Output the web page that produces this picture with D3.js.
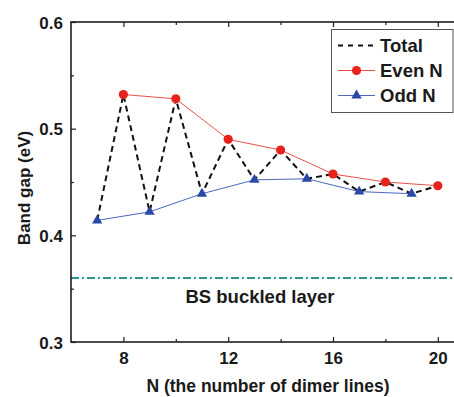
<!DOCTYPE html>
<html>
<head>
<meta charset="utf-8">
<script src="https://cdn.jsdelivr.net/npm/d3@7"></script>
<style>
  body { margin: 0; background: #fff; }
  svg { display: block; overflow: hidden; font-family: "Liberation Sans", Arial, sans-serif; font-weight: bold; }
</style>
</head>
<body>
<script>
// values
const evenN = [8, 10, 12, 14, 16, 18, 20];
const evenGap = [0.532, 0.528, 0.490, 0.480, 0.4575, 0.450, 0.4465];
const oddN = [7, 9, 11, 13, 15, 17, 19];
const oddGap = [0.414, 0.422, 0.439, 0.452, 0.453, 0.441, 0.439];
const bsGap = 0.360;
const yMajor = [0.3, 0.4, 0.5, 0.6];
const yMinor = [0.35, 0.45, 0.55];
const xMajor = [8, 12, 16, 20];
const xMinor = [10, 14, 18];

const W = 454, H = 397;
const margin = { top: 22, left: 71 };
const plotRight = 464, plotBottom = 342;

const x = d3.scaleLinear().domain([6, 21]).range([margin.left, plotRight]);
const y = d3.scaleLinear().domain([0.3, 0.6]).range([plotBottom, margin.top]);

const even = evenN.map((n, i) => ({ n: n, v: evenGap[i] }));
const odd = oddN.map((n, i) => ({ n: n, v: oddGap[i] }));
const total = even.concat(odd).sort((a, b) => a.n - b.n);

const svg = d3.select("body").append("svg")
  .attr("width", W)
  .attr("height", H);

const line = d3.line().x(d => x(d.n)).y(d => y(d.v));

const red = "#e8221c", blue = "#2a49a6", frame = "#1e1e1e";

// BS buckled reference line
svg.append("line")
  .attr("x1", x(6)).attr("x2", x(21))
  .attr("y1", y(bsGap)).attr("y2", y(bsGap))
  .attr("stroke", "#27968c")
  .attr("stroke-width", 1.8)
  .attr("stroke-dasharray", "8,3,2,3");

svg.append("text")
  .attr("x", 260).attr("y", 303)
  .attr("text-anchor", "middle")
  .style("font-size", "18.5px")
  .attr("fill", "#1a1a1a")
  .text("BS buckled layer");

// series
svg.append("path").datum(even)
  .attr("d", line).attr("fill", "none")
  .attr("stroke", "#e8504a").attr("stroke-width", 1);
svg.append("path").datum(odd)
  .attr("d", line).attr("fill", "none")
  .attr("stroke", "#4a68c0").attr("stroke-width", 1);
svg.append("path").datum(total)
  .attr("d", line).attr("fill", "none")
  .attr("stroke", "#111").attr("stroke-width", 2)
  .attr("stroke-dasharray", "6,4");

svg.selectAll(".even").data(even).enter().append("circle")
  .attr("cx", d => x(d.n)).attr("cy", d => y(d.v))
  .attr("r", 4.6).attr("fill", red);

const tri = d3.symbol().type(d3.symbolTriangle).size(46);
svg.selectAll(".odd").data(odd).enter().append("path")
  .attr("d", tri)
  .attr("transform", d => `translate(${ x(d.n) }, ${ y(d.v) })`)
  .attr("fill", blue);

// axes (ticks inward)
function axisStyle(g) {
  g.select(".domain").remove();
  g.selectAll("line").attr("stroke", frame).attr("stroke-width", 1.2);
  g.selectAll("text").attr("fill", "#1a1a1a").style("font-size", "17px")
    .style("font-family", "Liberation Sans, Arial, sans-serif").style("font-weight", "bold");
}

svg.append("g").attr("transform", `translate(${ margin.left },0)`)
  .call(d3.axisLeft(y).tickValues(yMajor).tickSizeInner(-5).tickPadding(8).tickFormat(d3.format(".1f")))
  .call(axisStyle)
  .selectAll("text").attr("dy", "0.36em");
svg.append("g").attr("transform", `translate(${ margin.left },0)`)
  .call(d3.axisLeft(y).tickValues(yMinor).tickSizeInner(-3).tickFormat(""))
  .call(axisStyle);

svg.append("g").attr("transform", `translate(0,${ plotBottom })`)
  .call(d3.axisBottom(x).tickValues(xMajor).tickSizeInner(-5).tickPadding(10))
  .call(axisStyle);
svg.append("g").attr("transform", `translate(0,${ plotBottom })`)
  .call(d3.axisBottom(x).tickValues(xMinor).tickSizeInner(-3).tickFormat(""))
  .call(axisStyle);

svg.append("g").attr("transform", `translate(0,${ margin.top })`)
  .call(d3.axisTop(x).tickValues(xMajor).tickSizeInner(-5).tickFormat(""))
  .call(axisStyle);
svg.append("g").attr("transform", `translate(0,${ margin.top })`)
  .call(d3.axisTop(x).tickValues(xMinor).tickSizeInner(-3).tickFormat(""))
  .call(axisStyle);

// frame
svg.append("rect")
  .attr("x", margin.left).attr("y", margin.top)
  .attr("width", plotRight - margin.left)
  .attr("height", plotBottom - margin.top)
  .attr("fill", "none").attr("stroke", frame).attr("stroke-width", 1.6);

// axis titles
svg.append("text")
  .attr("transform", `translate(30, ${ (margin.top + plotBottom) / 2 + 6 }) rotate(-90)`)
  .attr("text-anchor", "middle")
  .style("font-size", "17px")
  .attr("fill", "#1a1a1a")
  .text("Band gap (eV)");

svg.append("text")
  .attr("x", 268).attr("y", 392)
  .attr("text-anchor", "middle")
  .style("font-size", "17.5px")
  .attr("fill", "#1a1a1a")
  .text("N (the number of dimer lines)");

// legend
const legend = svg.append("g");
legend.append("rect")
  .attr("x", 331.5).attr("y", 29.5)
  .attr("width", 121.5).attr("height", 83)
  .attr("fill", "#fff").attr("stroke", "#555").attr("stroke-width", 1);

const items = [
  { label: "Total", stroke: "#111", width: 2, dash: "5,5", mark: null },
  { label: "Even N", stroke: "#e8504a", width: 1, dash: null, mark: "circle" },
  { label: "Odd N", stroke: "#4a68c0", width: 1, dash: null, mark: "tri" }
];
items.forEach((it, i) => {
  const ly = 45.5 + i * 25;
  legend.append("line")
    .attr("x1", 338).attr("x2", 375).attr("y1", ly).attr("y2", ly)
    .attr("stroke", it.stroke).attr("stroke-width", it.width)
    .attr("stroke-dasharray", it.dash);
  if (it.mark === "circle") {
    legend.append("circle").attr("cx", 356.5).attr("cy", ly).attr("r", 4.6).attr("fill", red);
  } else if (it.mark === "tri") {
    legend.append("path").attr("d", tri)
      .attr("transform", `translate(356.5, ${ ly })`).attr("fill", blue);
  }
  legend.append("text")
    .attr("x", 380).attr("y", ly)
    .attr("dy", "0.36em")
    .style("font-size", "18.5px")
    .attr("fill", "#1a1a1a")
    .text(it.label);
});
</script>
</body>
</html>
